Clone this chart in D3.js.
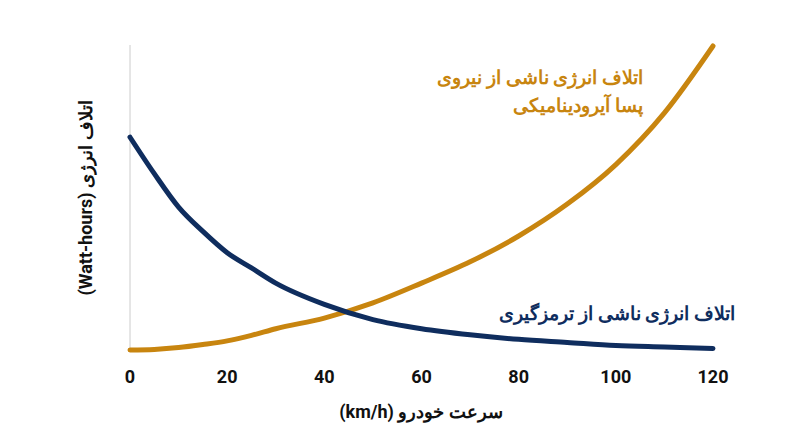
<!DOCTYPE html>
<html><head><meta charset="utf-8">
<script src="https://cdn.jsdelivr.net/npm/d3@7"></script>
<style>body{margin:0;background:#fff}text{font-family:Roboto,"Noto Sans",sans-serif}</style>
</head><body><svg id="c" width="800" height="447"></svg>
<script>
const xTicks=[0,20,40,60,80,100,120];
const speeds=[0,5,10,15,20,25,30,40,50,60,70,80,90,100,110,120];
const aero=[0,0.2,0.8,1.8,3,4.8,7,10.5,15.5,22,29,37.5,48,61,78,100];
const brake=[70,58,47,39,32,27,22,15,10,7,5,3.5,2.5,1.5,1,0.5];
const svg=d3.select("#c");
const x=d3.scaleLinear().domain([0,120]).range([130,713]);
const y=d3.scaleLinear().domain([0,100]).range([350,46]);
svg.append("line").attr("x1",130).attr("x2",130).attr("y1",45).attr("y2",352).attr("stroke","#ccc").attr("stroke-width",1);
const line=d3.line().x((d,i)=>x(speeds[i])).y(d=>y(d)).curve(d3.curveMonotoneX);
svg.append("path").attr("d",line(aero)).attr("fill","none").attr("stroke","#c8850f").attr("stroke-width",5).attr("stroke-linecap","round");
svg.append("path").attr("d",line(brake)).attr("fill","none").attr("stroke","#0f2d5e").attr("stroke-width",5).attr("stroke-linecap","round");
svg.selectAll(".t").data(xTicks).enter().append("text").attr("x",d=>x(d)).attr("y",383).attr("text-anchor","middle").attr("font-size",18).attr("font-weight","bold").attr("fill","#111").text(d=>d);
svg.append("text").attr("x",421).attr("y",418).attr("text-anchor","middle").attr("font-size",18).attr("font-weight","bold").attr("fill","#111").attr("direction","rtl").text("سرعت خودرو (km/h)");
svg.append("text").attr("transform","translate(92,198) rotate(-90)").attr("text-anchor","middle").attr("font-size",18).attr("font-weight","bold").attr("fill","#111").attr("direction","rtl").text("اتلاف انرژی (Watt-hours)");
const lab=(t,yy,c)=>svg.append("text").attr("x",0).attr("y",yy).attr("text-anchor","end").attr("font-size",19).attr("font-weight","bold").attr("fill",c).attr("direction","rtl").attr("font-family","'Noto Sans',sans-serif").text(t);
svg.append("text").attr("x",643).attr("y",84).attr("text-anchor","start").attr("direction","rtl").attr("font-size",19).attr("font-weight","bold").attr("fill","#c8850f").text("اتلاف انرژی ناشی از نیروی");
svg.append("text").attr("x",643).attr("y",112).attr("text-anchor","start").attr("direction","rtl").attr("font-size",19).attr("font-weight","bold").attr("fill","#c8850f").text("پسا آیرودینامیکی");
svg.append("text").attr("x",735).attr("y",320).attr("text-anchor","start").attr("direction","rtl").attr("font-size",19).attr("font-weight","bold").attr("fill","#0f2d5e").text("اتلاف انرژی ناشی از ترمزگیری");
</script></body></html>
